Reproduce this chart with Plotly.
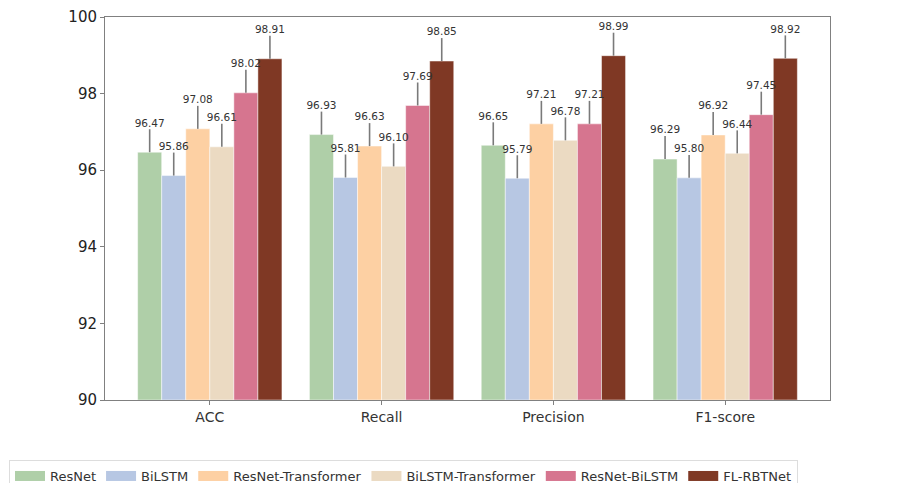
import plotly.graph_objects as go

metrics = ["ACC", "Recall", "Precision", "F1-score"]
models = ["ResNet", "BiLSTM", "ResNet-Transformer", "BiLSTM-Transformer", "ResNet-BiLSTM", "FL-RBTNet"]
resnet = [96.47, 96.93, 96.65, 96.29]
bilstm = [95.86, 95.81, 95.79, 95.80]
resnet_transformer = [97.08, 96.63, 97.21, 96.92]
bilstm_transformer = [96.61, 96.10, 96.78, 96.44]
resnet_bilstm = [98.02, 97.69, 97.21, 97.45]
fl_rbtnet = [98.91, 98.85, 98.99, 98.92]
errors = [0.6, 0.6, 0.6, 0.6]
yticks = [90, 92, 94, 96, 98, 100]

series = [resnet, bilstm, resnet_transformer, bilstm_transformer, resnet_bilstm, fl_rbtnet]
colors = ["#afcfa8", "#b7c7e3", "#fdd0a3", "#ebdac2", "#d6758f", "#7f3824"]

bar_w = 0.14
fig = go.Figure()
for j, (name, vals, col) in enumerate(zip(models, series, colors)):
    xs = [i + (j - 2.5) * bar_w for i in range(len(metrics))]
    fig.add_trace(go.Bar(
        x=xs, y=[v - 90 for v in vals], base=90, width=bar_w, name=name,
        showlegend=False,
        marker=dict(color=col, line=dict(color="rgba(255,255,255,0.6)", width=0.8)),
        error_y=dict(type="data", array=errors, arrayminus=[0] * len(vals), symmetric=False,
                     color="#7a7a7a", thickness=1.6, width=0),
    ))
    fig.add_trace(go.Scatter(
        x=xs, y=[v + e for v, e in zip(vals, errors)], mode="text",
        text=[f"{v:.2f}" for v in vals], textposition="top center",
        textfont=dict(family="DejaVu Sans", size=10.5, color="#333333"),
        showlegend=False, hoverinfo="skip", cliponaxis=False,
    ))
    # legend proxy (no data) so the legend swatch is a wide patch
    fig.add_trace(go.Scatter(
        x=[None], y=[None], mode="lines", name=name,
        line=dict(color=col, width=10), showlegend=True,
    ))

fig.update_layout(
    width=923, height=483,
    margin=dict(l=97, r=101, t=9, b=91, autoexpand=False),
    plot_bgcolor="white", paper_bgcolor="white",
    font=dict(family="DejaVu Sans", color="#333333"),
    showlegend=True,
    legend=dict(orientation="h", x=-0.1324, xanchor="left", y=-0.1567, yanchor="top",
                bgcolor="white", bordercolor="#dddddd", borderwidth=1,
                font=dict(size=13, color="#333333"), traceorder="normal"),
)
fig.update_xaxes(
    range=[-0.61, 3.61], tickvals=list(range(len(metrics))), ticktext=metrics,
    showline=True, linecolor="#808080", linewidth=1, mirror=True,
    ticks="outside", ticklen=4, tickcolor="#808080", tickfont=dict(size=14, color="#333333"),
    showgrid=False, zeroline=False,
)
fig.update_yaxes(
    range=[90, 100], tickvals=yticks, ticktext=[str(t) for t in yticks],
    showline=True, linecolor="#808080", linewidth=1, mirror=True,
    ticks="outside", ticklen=4, tickcolor="#808080", tickfont=dict(size=15, color="#222222"),
    showgrid=False, zeroline=False,
)
fig.write_html("out.html")
